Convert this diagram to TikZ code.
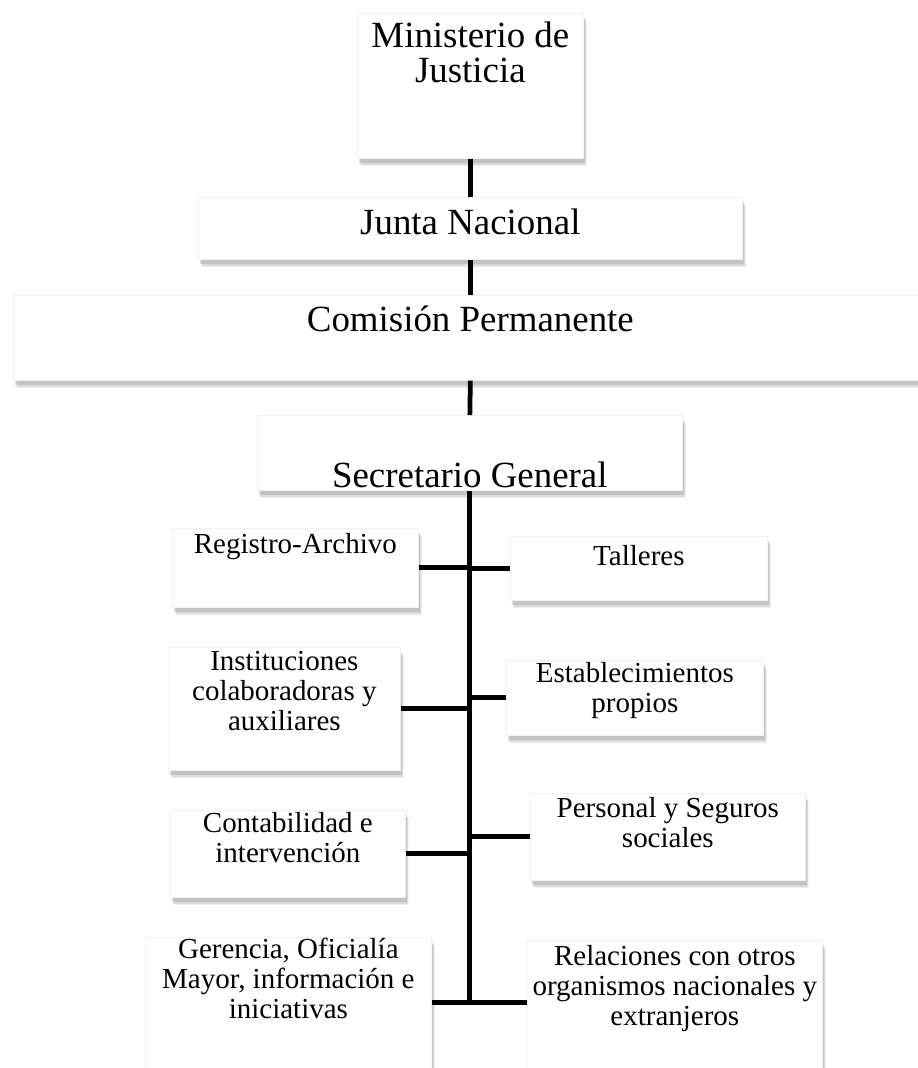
\documentclass[tikz,border=0pt]{standalone}
\usepackage{fontspec}
\setmainfont{Liberation Serif}
\usepackage{tikz}
\usetikzlibrary{shadows, calc}

\newlength{\pxu}
\setlength{\pxu}{0.02cm}
% caja: ancho, alto, altura de la primera linea, texto
\newcommand{\caja}[4]{\parbox[c][#2\pxu][t]{#1\pxu}{\centering\rule{0pt}{#3\pxu}#4}}

\tikzset{
    cajon/.style={draw=gray!12, fill=white, inner sep=0pt, anchor=north west,
        drop shadow={shadow xshift=2.2pt, shadow yshift=-4.5pt, opacity=0.12},
        drop shadow={shadow xshift=1.7pt, shadow yshift=-3.5pt, opacity=0.18},
        drop shadow={shadow xshift=1.2pt, shadow yshift=-2.5pt, opacity=0.25}},
    grande/.style={font=\fontsize{21}{19.9}\selectfont},
    chico/.style={font=\fontsize{16.5}{17}\selectfont},
    linea/.style={line width=2.7pt}
}

\begin{document}
\begin{tikzpicture}[x=0.02cm, y=-0.02cm]
    \useasboundingbox (0,0) rectangle (917,1068);
    \fill[white] (0,0) rectangle (917,1068);

    % --- Mando ---
    \node[cajon, grande] (ministerio) at (357,13) {\caja{226}{145}{34}{Ministerio de\\Justicia}};
    \node[cajon, grande] (junta) at (198,197) {\caja{544}{62}{37}{Junta Nacional}};
    \node[cajon, grande] (comision) at (13,295) {\caja{914}{85}{36}{Comisión Permanente}};
    \node[cajon, grande] (secretario) at (257,415) {\caja{425}{75}{72}{Secretario General}};

    % --- Izquierda ---
    \node[cajon, chico] (registro) at (172,528) {\caja{246}{79}{25}{Registro-Archivo}};
    \node[cajon, chico] (instituciones) at (168,647) {\caja{232}{123}{23}{Instituciones\\colaboradoras y\\auxiliares}};
    \node[cajon, chico] (contabilidad) at (170,810) {\caja{235}{87}{22}{Contabilidad e\\intervención}};
    \node[cajon, chico] (gerencia) at (145,937) {\caja{286}{150}{21}{Gerencia, Oficialía\\Mayor, información e\\iniciativas}};

    % --- Derecha ---
    \node[cajon, chico] (talleres) at (510,536) {\caja{257}{64}{29}{Talleres}};
    \node[cajon, chico] (establecimientos) at (506,660) {\caja{257}{75}{22}{Establecimientos\\propios}};
    \node[cajon, chico] (personal) at (530,793) {\caja{275}{87}{24}{Personal y Seguros\\sociales}};
    \node[cajon, chico] (relaciones) at (527,940) {\caja{295}{150}{25}{Relaciones con otros\\organismos nacionales y\\extranjeros}};

    % --- Lineas ---
    \draw[linea] (ministerio.south) -- (junta.north);
    \draw[linea] (junta.south) -- (comision.north);
    \draw[linea] (comision.south) -- (secretario.north);
    \path (secretario.south) ++(0,512) coordinate (fin);
    \draw[linea] (secretario.south) -- (fin);
    \foreach \n in {registro, instituciones, contabilidad} {
        \draw[linea] (\n.east) -- (\n.east -| fin);
    }
    \foreach \n in {talleres, establecimientos, personal} {
        \draw[linea] (\n.west) -- (\n.west -| fin);
    }
    \draw[linea] (gerencia.east |- fin) -- (fin);
    \draw[linea] (fin) -- (relaciones.west |- fin);

\end{tikzpicture}
\end{document}
